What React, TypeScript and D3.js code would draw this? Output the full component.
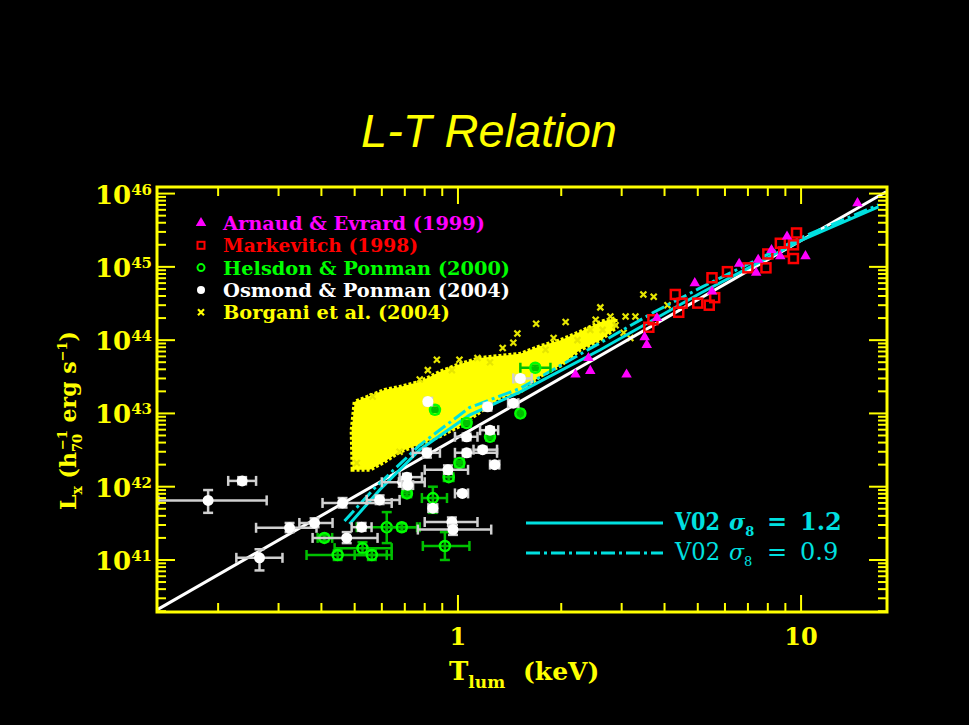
import React from 'react';
import * as d3 from 'd3';

// T in keV, L in erg/s (h70^-1)
const arnaudEvrard: [number, number][] = [
  [14.6, 7.4e45], [9.1, 2.6e45], [10.3, 1.4e45], [8.7, 1.4e45], [7.5, 1.25e45],
  [6.6, 1.1e45], [7.4, 8.3e44], [4.9, 6.0e44], [5.5, 4.6e44], [3.8, 2.0e44],
  [3.5, 1.1e44], [3.55, 8.6e43], [3.1, 3.4e43], [2.4, 5.7e43], [2.43, 3.8e43],
  [2.2, 3.4e43], [8.2, 1.7e45],
];

const markevitch: [number, number][] = [
  [9.7, 2.9e45], [8.7, 2.1e45], [9.5, 1.3e45], [8.0, 1.5e45], [7.9, 9.7e44],
  [7.0, 9.7e44], [6.1, 8.6e44], [5.5, 7.1e44], [4.3, 4.2e44], [4.5, 3.2e44],
  [5.0, 3.2e44], [5.4, 3.0e44], [5.6, 3.8e44], [4.4, 2.4e44], [3.7, 1.9e44],
  [3.6, 1.5e44], [8.9, 1.6e45], [9.5, 2.0e45],
];

// [T, L, Tlo, Thi, Llo, Lhi]
const helsdonPonman: number[][] = [
  [0.62, 2.8e41, 0.507, 0.774, 1.7e41, 4.5e41],
  [0.686, 2.8e41, 0.62, 0.76, 2.5e41, 3.1e41],
  [0.845, 7.0e41, 0.785, 0.929, 4.4e41, 1.0e42],
  [0.916, 1.55e41, 0.79, 1.08, 1.0e41, 2.4e41],
  [0.527, 1.45e41, 0.437, 0.641, 1.2e41, 1.75e41],
  [0.446, 1.17e41, 0.362, 0.641, 1.0e41, 1.35e41],
  [0.561, 1.17e41, 0.5, 0.62, 1.0e41, 1.35e41],
  [0.408, 2.0e41, 0.39, 0.43, 1.8e41, 2.2e41],
  [0.71, 8.1e41, 0.69, 0.73, 7.4e41, 8.8e41],
  [0.94, 1.35e42, 0.91, 0.97, 1.2e42, 1.5e42],
  [0.857, 1.12e43, 0.84, 0.875, 1.05e43, 1.2e43],
  [1.52, 1.0e43, 1.49, 1.55, 9.3e42, 1.07e43],
  [1.06, 7.4e42, 1.03, 1.09, 6.9e42, 7.9e42],
  [1.01, 2.1e42, 0.98, 1.04, 1.95e42, 2.25e42],
  [1.24, 4.8e42, 1.21, 1.27, 4.5e42, 5.1e42],
  [1.68, 4.2e43, 1.52, 1.86, 3.9e43, 4.5e43],
];

const osmondPonman: number[][] = [
  [0.235, 1.2e42, 0.214, 0.258, 1.08e42, 1.35e42],
  [0.187, 6.5e41, 0.134, 0.277, 4.4e41, 9.0e41],
  [0.264, 1.07e41, 0.226, 0.308, 7.2e40, 1.4e41],
  [0.323, 2.75e41, 0.258, 0.387, 2.4e41, 3.2e41],
  [0.382, 3.2e41, 0.345, 0.431, 2.8e41, 3.7e41],
  [0.461, 6.0e41, 0.403, 0.641, 5.2e41, 7.0e41],
  [0.591, 6.6e41, 0.542, 0.676, 5.8e41, 7.6e41],
  [0.474, 2.0e41, 0.377, 0.583, 1.7e41, 2.4e41],
  [0.524, 2.8e41, 0.49, 0.56, 2.5e41, 3.2e41],
  [0.69, 1.15e42, 0.6, 0.8, 1.0e42, 1.3e42],
  [0.812, 2.9e42, 0.738, 0.886, 2.5e42, 3.3e42],
  [0.935, 1.7e42, 0.8, 1.07, 1.5e42, 1.95e42],
  [1.03, 8.1e41, 0.98, 1.07, 7.5e41, 8.8e41],
  [0.845, 5.1e41, 0.82, 0.87, 4.7e41, 5.5e41],
  [0.96, 3.3e41, 0.8, 1.14, 2.9e41, 3.8e41],
  [0.967, 2.6e41, 0.764, 1.25, 2.2e41, 3.0e41],
  [1.06, 2.9e42, 0.98, 1.3, 2.6e42, 3.2e42],
  [1.28, 2.0e42, 1.24, 1.32, 1.85e42, 2.15e42],
  [0.817, 1.45e43, 0.8, 0.84, 1.35e43, 1.55e43],
  [1.22, 1.23e43, 1.19, 1.25, 1.15e43, 1.32e43],
  [1.52, 3.0e43, 1.45, 1.64, 2.7e43, 3.3e43],
  [1.45, 1.38e43, 1.4, 1.5, 1.25e43, 1.5e43],
  [1.24, 5.9e42, 1.16, 1.31, 5.3e42, 6.5e42],
  [1.06, 4.8e42, 0.98, 1.14, 4.3e42, 5.3e42],
  [1.18, 3.2e42, 1.11, 1.3, 2.9e42, 3.5e42],
  [0.71, 1.35e42, 0.676, 0.785, 1.2e42, 1.5e42],
  [0.714, 1.05e42, 0.69, 0.74, 9.5e41, 1.15e42],
];

// outline of the dense part of the simulated cluster cloud
const borganiCloud: [number, number][] = [
  [0.493, 1.7e42], [0.49, 5.9e42], [0.5, 1.44e43], [0.553, 1.73e43], [0.612, 2.1e43],
  [0.676, 2.3e43], [0.774, 2.7e43], [0.886, 3.7e43], [1.01, 4.7e43], [1.16, 5.7e43],
  [1.33, 6.1e43], [1.52, 6.5e43], [1.74, 8.3e43], [1.99, 1.0e44], [2.27, 1.3e44],
  [2.6, 1.77e44], [2.88, 2.0e44], [2.88, 1.47e44], [2.6, 1.0e44], [2.27, 7.4e43],
  [1.99, 4.5e43], [1.74, 3.25e43], [1.52, 1.97e43], [1.33, 1.63e43], [1.16, 1.05e43],
  [1.01, 6.7e42], [0.886, 4.9e42], [0.774, 3.8e42], [0.676, 3.0e42], [0.612, 2.2e42],
  [0.553, 1.7e42],
];

// isolated simulated clusters around the cloud
const borganiScatter: [number, number][] = [
  [1.69, 1.67e44], [2.06, 1.77e44], [1.49, 1.23e44], [1.45, 9.2e43], [1.35, 7.8e43],
  [1.9, 1.07e44], [2.23, 1.0e44], [0.868, 5.4e43], [0.817, 3.9e43], [0.96, 3.9e43],
  [1.14, 5.7e43], [1.24, 5.0e43], [0.564, 1.7e43], [0.507, 2.1e42], [2.6, 2.8e44],
  [2.78, 2.1e44], [3.08, 2.1e44], [3.29, 2.1e44], [3.47, 4.2e44], [3.72, 3.9e44],
  [4.08, 3.0e44], [2.43, 1.38e44], [2.64, 1.38e44], [3.04, 1.26e44], [3.18, 1.07e44],
  [0.676, 3.0e42], [0.774, 2.9e43], [1.01, 5.4e43], [1.8, 7.4e43], [2.52, 1.9e44],
  [2.88, 1.6e44],
];

const fitLine: [number, number][] = [[0.133, 2.1e40], [17.7, 1.06e46]];

const v02Sigma12: [number, number][] = [
  [0.483, 3.1e41], [0.591, 9.0e41], [0.774, 3.2e42], [1.08, 9.5e42], [1.52, 1.97e43],
  [2.6, 7.4e43], [5.1, 4.4e44], [10.0, 2.3e45], [16.8, 6.6e45],
];

const v02Sigma09: [number, number][] = [
  [0.467, 3.4e41], [0.572, 9.6e41], [0.774, 3.7e42], [1.08, 1.2e43], [1.52, 2.2e43],
  [2.6, 9.2e43], [3.72, 2.4e44], [5.1, 5.2e44], [10.0, 2.5e45], [16.8, 7.0e45],
];

const xTickLabels = [1, 10];
const yTickExponents = [41, 42, 43, 44, 45, 46];

const pointLegend = [
  'Arnaud & Evrard (1999)',
  'Markevitch (1998)',
  'Helsdon & Ponman (2000)',
  'Osmond & Ponman (2004)',
  'Borgani et al. (2004)',
];

const YEL = '#ffff00';
const CYAN = '#00e0e0';
const SERIF = '"DejaVu Serif", serif';

const x = d3.scaleLog().domain([0.1327, 17.8]).range([157, 887]);
const y = d3.scaleLog().domain([1.95e40, 1.23e46]).range([612, 187]);

const isDecade = (v: number) => Math.abs(Math.log10(v) - Math.round(Math.log10(v))) < 1e-6;

const line = d3.line<[number, number]>().x(d => x(d[0])).y(d => y(d[1]));
const cloudPath = d3.line<[number, number]>().x(d => x(d[0])).y(d => y(d[1])).curve(d3.curveLinearClosed);
const triangle = d3.symbol(d3.symbolTriangle, 48)() as string;

const ErrorPoint: React.FC<{ d: number[]; bar: string; marker: React.ReactNode }> = ({ d, bar, marker }) => {
  const [t, l, tlo, thi, llo, lhi] = d;
  const cx = x(t), cy = y(l);
  const x0 = x(tlo), x1 = x(thi), y0 = y(llo), y1 = y(lhi);
  return (
    <g stroke={bar} strokeWidth={2.5}>
      <line x1={x0} x2={x1} y1={cy} y2={cy} />
      <line x1={x0} x2={x0} y1={cy - 5} y2={cy + 5} />
      <line x1={x1} x2={x1} y1={cy - 5} y2={cy + 5} />
      <line x1={cx} x2={cx} y1={y0} y2={y1} />
      <line x1={cx - 5} x2={cx + 5} y1={y0} y2={y0} />
      <line x1={cx - 5} x2={cx + 5} y1={y1} y2={y1} />
      <g transform={`translate(${cx},${cy})`}>{marker}</g>
    </g>
  );
};

const Cross: React.FC<{ cx: number; cy: number; color: string }> = ({ cx, cy, color }) => (
  <path d={`M${cx - 3},${cy - 3}L${cx + 3},${cy + 3}M${cx - 3},${cy + 3}L${cx + 3},${cy - 3}`}
    stroke={color} strokeWidth={2.2} fill="none" />
);

const App: React.FC = () => {
  const ticks = x.ticks();
  const yticks = y.ticks();
  const legendColors = ['#ff00ff', '#ff0000', '#00ff00', '#ffffff', YEL];
  const legendWidths = [262, 195, 287, 287, 227];

  return (
    <svg width={969} height={725} style={{ position: 'absolute', left: 0, top: 0, background: '#000' }}>
      <rect width={969} height={725} fill="#000" />

      <text x={489} y={147} textAnchor="middle" fill={YEL} fontSize={47}
        fontStyle="italic" fontFamily='"Liberation Sans", Arial, sans-serif'>L-T Relation</text>

      <defs>
        <clipPath id="plot"><rect x={157} y={187} width={730} height={425} /></clipPath>
      </defs>

      <g clipPath="url(#plot)">
        {/* simulated clusters */}
        <path d={cloudPath(borganiCloud) || ''} fill={YEL} stroke={YEL} strokeWidth={4} strokeDasharray="3,2" />
        {borganiScatter.map((d, i) => <Cross key={i} cx={x(d[0])} cy={y(d[1])} color="#e6e600" />)}

        {/* model curves */}
        <path d={line(fitLine) || ''} fill="none" stroke="#fff" strokeWidth={3} />
        <path d={line(v02Sigma12) || ''} fill="none" stroke={CYAN} strokeWidth={3} />
        <path d={line(v02Sigma09) || ''} fill="none" stroke={CYAN} strokeWidth={3} strokeDasharray="14,4,3,4" />

        {markevitch.map((d, i) => (
          <rect key={i} x={x(d[0]) - 4.5} y={y(d[1]) - 4.5} width={9} height={9} fill="none" stroke="#ff0000" strokeWidth={2.5} />
        ))}
        {arnaudEvrard.map((d, i) => (
          <path key={i} d={triangle} transform={`translate(${x(d[0])},${y(d[1])})`} fill="#ff00ff" />
        ))}
        {helsdonPonman.map((d, i) => (
          <ErrorPoint key={i} d={d} bar="#00c000"
            marker={<circle r={5} fill="none" stroke="#00ff00" strokeWidth={2.5} />} />
        ))}
        {osmondPonman.map((d, i) => (
          <ErrorPoint key={i} d={d} bar="#d0d0d0"
            marker={<circle r={5.5} fill="#fff" stroke="none" />} />
        ))}
      </g>

      {/* frame and ticks */}
      <rect x={157} y={187} width={730} height={425} fill="none" stroke={YEL} strokeWidth={3} />
      <g stroke={YEL} strokeWidth={2}>
        {ticks.map((t, i) => {
          const len = isDecade(t) ? 17 : 9;
          const px = x(t);
          return (
            <g key={i}>
              <line x1={px} x2={px} y1={612} y2={612 - len} />
              <line x1={px} x2={px} y1={187} y2={187 + len} />
            </g>
          );
        })}
        {yticks.map((t, i) => {
          const len = isDecade(t) ? 18 : 9;
          const py = y(t);
          return (
            <g key={i}>
              <line x1={157} x2={157 + len} y1={py} y2={py} />
              <line x1={887} x2={887 - len} y1={py} y2={py} />
            </g>
          );
        })}
      </g>

      {/* tick labels */}
      {xTickLabels.map(v => (
        <text key={v} x={x(v)} y={645} textAnchor="middle" fill={YEL} fontSize={24}
          fontWeight="bold" fontFamily={SERIF}>{v}</text>
      ))}
      {yTickExponents.map(e => (
        <text key={e} x={95} y={y(Math.pow(10, e)) + 10} fill={YEL} fontFamily={SERIF} fontWeight="bold">
          <tspan fontSize={26}>10</tspan>
          <tspan fontSize={15} dy={-9}>{e}</tspan>
        </text>
      ))}

      {/* axis titles */}
      <text x={449} y={680} fill={YEL} fontFamily={SERIF} fontWeight="bold" fontSize={26}>
        <tspan>T</tspan>
        <tspan fontSize={17} dy={8}>lum</tspan>
        <tspan x={523} dy={-8} fontSize={25}>(keV)</tspan>
      </text>
      <text transform="translate(76,510) rotate(-90)" fill={YEL} fontFamily={SERIF} fontWeight="bold" fontSize={22}>
        <tspan>L</tspan>
        <tspan fontSize={14} dy={6}>x</tspan>
        <tspan dy={-6}>{'  (h'}</tspan>
        <tspan fontSize={13} dy={6}>70</tspan>
        <tspan fontSize={13} dx={-16} dy={-15}>−1</tspan>
        <tspan dy={9}>{' erg s'}</tspan>
        <tspan fontSize={13} dy={-9}>−1</tspan>
        <tspan dy={9}>)</tspan>
      </text>

      {/* point legend */}
      {pointLegend.map((label, i) => {
        const cy = 223 + i * 22.3;
        const c = legendColors[i];
        let mark: React.ReactNode;
        if (i === 0) mark = <path d={triangle} transform={`translate(201,${cy})`} fill={c} />;
        else if (i === 1) mark = <rect x={197.5} y={cy - 3.5} width={7} height={7} fill="none" stroke={c} strokeWidth={2} />;
        else if (i === 2) mark = <circle cx={201} cy={cy} r={3.5} fill="none" stroke={c} strokeWidth={2} />;
        else if (i === 3) mark = <circle cx={201} cy={cy} r={4} fill={c} />;
        else mark = <Cross cx={201} cy={cy} color={c} />;
        return (
          <g key={label}>
            {mark}
            <text x={223} y={cy + 7} fill={c} fontFamily={SERIF} fontWeight="bold" fontSize={19}
              textLength={legendWidths[i]} lengthAdjust="spacingAndGlyphs">{label}</text>
          </g>
        );
      })}

      {/* model legend */}
      <line x1={526} x2={663} y1={523} y2={523} stroke={CYAN} strokeWidth={3} />
      <line x1={526} x2={663} y1={553} y2={553} stroke={CYAN} strokeWidth={3} strokeDasharray="14,4,3,4" />
      {[{ yb: 530, val: '1.2', w: 'bold' }, { yb: 560, val: '0.9', w: 'normal' }].map(r => (
        <text key={r.val} x={675} y={r.yb} fill={CYAN} fontFamily={SERIF} fontWeight={r.w} fontSize={24}>
          <tspan textLength={45} lengthAdjust="spacingAndGlyphs">V02</tspan>
          <tspan x={729} fontSize={22} fontStyle="italic">σ</tspan>
          <tspan fontSize={13} dy={6}>8</tspan>
          <tspan x={767} dy={-6}>=</tspan>
          <tspan x={800}>{r.val}</tspan>
        </text>
      ))}
    </svg>
  );
};

export default App;
